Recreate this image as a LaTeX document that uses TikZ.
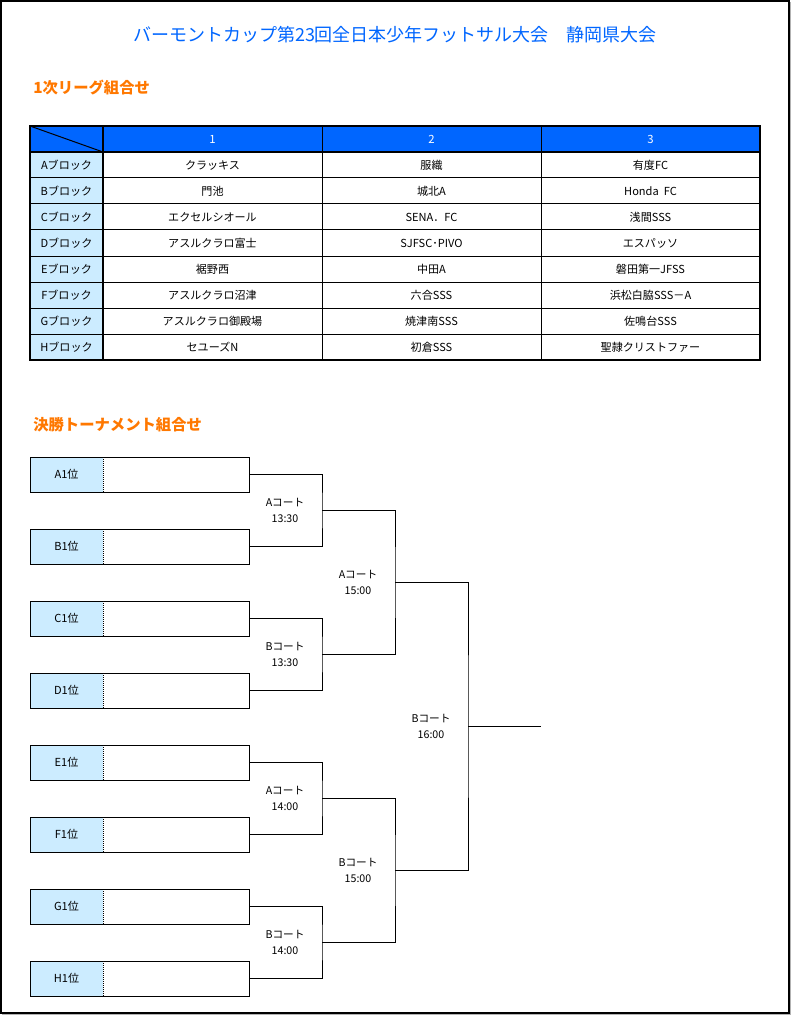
\documentclass[tikz,border=0pt]{standalone}
\usepackage{fontspec}
\setmainfont{Noto Sans CJK JP}
\definecolor{titleblue}{RGB}{0,102,255}
\definecolor{headblue}{RGB}{0,102,255}
\definecolor{lightblue}{RGB}{204,236,255}
\definecolor{headorange}{RGB}{255,120,0}
\tikzset{
  px/.style={x=0.75pt,y=-0.75pt},
  thin/.style={line width=0.75pt},
  thick2/.style={line width=1.6pt},
  celltext/.style={font=\fontsize{8.3}{10}\selectfont,inner sep=0pt,anchor=center},
  headtext/.style={font=\fontsize{8.5}{10}\selectfont,text=white,inner sep=0pt},
  sectitle/.style={font=\fontsize{11.5}{13}\selectfont\bfseries,text=headorange,anchor=west,inner sep=0pt},
  teambox/.style={draw,line width=0.75pt,minimum width=164.25pt,minimum height=26.25pt,inner sep=0pt},
  seedtext/.style={font=\fontsize{8.3}{10}\selectfont,inner sep=0pt},
  courttext/.style={font=\fontsize{8}{11.5}\selectfont,align=center,inner sep=0pt},
  bline/.style={line width=0.75pt}
}
\begin{document}
\begin{tikzpicture}[px]
\useasboundingbox (0,0) rectangle (791,1016);
\fill[white] (0,0) rectangle (791,1016);
\draw[line width=1.1pt] (1,1) rectangle (789,1013);
\draw[line width=0.75pt,gray!60] (2,1014.3) -- (790.3,1014.3) -- (790.3,2);

% title
\node[font=\fontsize{13.5}{15}\selectfont,text=titleblue,inner sep=0pt] (title) at (395,35) {バーモントカップ第23回全日本少年フットサル大会\hspace{1em}静岡県大会};
\node[sectitle] (sec1) at (33,88) {1次リーグ組合せ};

% table
\fill[headblue] (30,126) rectangle (760,152);
\fill[lightblue] (30,152) rectangle (103,360);
\foreach \y in {178,204,230,256,282,308,334} \draw[thin] (30,\y) -- (760,\y);
\draw[thin] (322,126) -- (322,360);
\draw[thin] (541,126) -- (541,360);
\draw[thin] (30,126) -- (103,152);
\draw[thick2] (30,152) -- (760,152);
\draw[thick2] (103,126) -- (103,360);
\draw[thick2] (30,126) rectangle (760,360);

\node[headtext] (h1) at (212.5,139) {1};
\node[headtext] (h2) at (431.5,139) {2};
\node[headtext] (h3) at (650.5,139) {3};

\foreach \i/\blk/\a/\b/\c in {
 0/A/クラッキス/服織/有度FC,
 1/B/門池/城北A/Honda\ \ FC,
 2/C/エクセルシオール/SENA．FC/浅間SSS,
 3/D/アスルクラロ富士/SJFSC･PIVO/エスパッソ,
 4/E/裾野西/中田A/磐田第一JFSS,
 5/F/アスルクラロ沼津/六合SSS/浜松白脇SSS－A,
 6/G/アスルクラロ御殿場/焼津南SSS/佐鳴台SSS,
 7/H/セユーズN/初倉SSS/聖隷クリストファー}{
  \pgfmathsetmacro{\yy}{165+26*\i}
  \node[celltext] (r\i0) at (66.5,\yy) {\blk ブロック};
  \node[celltext] (r\i1) at (212.5,\yy) {\a};
  \node[celltext] (r\i2) at (431.5,\yy) {\b};
  \node[celltext] (r\i3) at (650.5,\yy) {\c};
}

% tournament
\node[sectitle] (sec2) at (33,425) {決勝トーナメント組合せ};

\foreach \k/\t/\yy in {A/A/474.5,B/B/546.5,C/C/618.5,D/D/690.5,E/E/762.5,F/F/834.5,G/G/906.5,H/H/978.5}{
  \fill[lightblue] (30,\yy-17.5) rectangle (103,\yy+17.5);
  \draw[line width=0.75pt,dash pattern=on 0.75pt off 0.75pt] (103,\yy-17.5) -- (103,\yy+17.5);
  \node[teambox] (t\k) at (139.5,\yy) {};
  \node[seedtext] (s\k) at (66.5,\yy) {\t 1位};
}

\coordinate (mAB) at (322,510.5);
\coordinate (mCD) at (322,654.5);
\coordinate (mEF) at (322,798.5);
\coordinate (mGH) at (322,942.5);
\coordinate (rU) at (395,582.5);
\coordinate (rL) at (395,870.5);
\coordinate (fin) at (468,726.5);
\coordinate (finend) at (541,726.5);

\draw[bline] (tA.east) -| (mAB) |- (tB.east);
\draw[bline] (tC.east) -| (mCD) |- (tD.east);
\draw[bline] (tE.east) -| (mEF) |- (tF.east);
\draw[bline] (tG.east) -| (mGH) |- (tH.east);
\draw[bline] (mAB) -| (rU) |- (mCD);
\draw[bline] (mEF) -| (rL) |- (mGH);
\draw[bline] (rU) -| (fin) |- (rL);
\draw[bline] (fin) -- (finend);

\node[courttext] (c1) at (285,510.5) {Aコート\\13:30};
\node[courttext] (c2) at (285,654.5) {Bコート\\13:30};
\node[courttext] (c3) at (285,798.5) {Aコート\\14:00};
\node[courttext] (c4) at (285,942.5) {Bコート\\14:00};
\node[courttext] (c5) at (358,582.5) {Aコート\\15:00};
\node[courttext] (c6) at (358,870.5) {Bコート\\15:00};
\node[courttext] (c7) at (431,726.5) {Bコート\\16:00};
\end{tikzpicture}
\end{document}
